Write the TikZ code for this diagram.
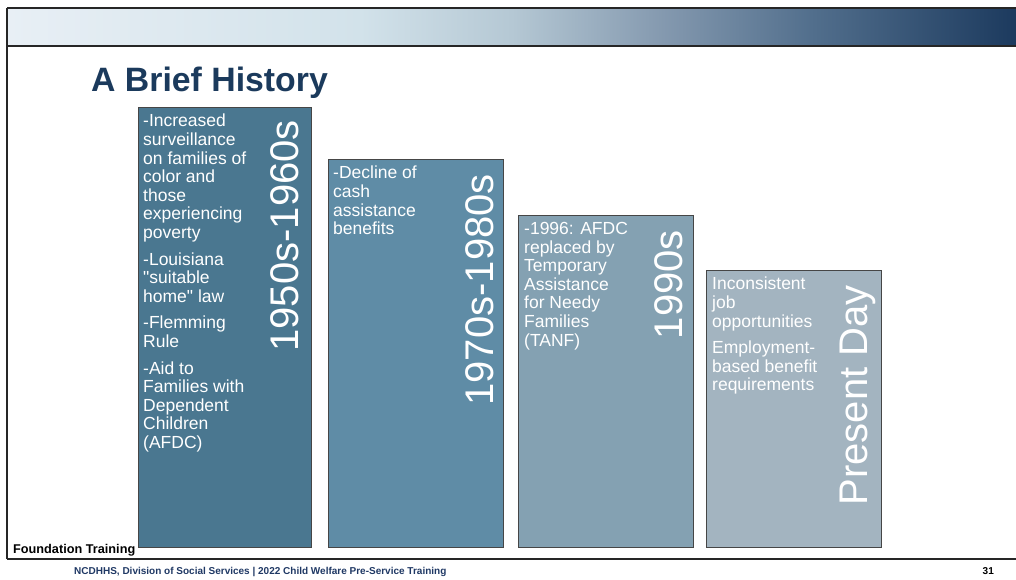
\documentclass[tikz,border=0pt]{standalone}
\usepackage{fontspec}
\setmainfont{Liberation Sans}
\usepackage{tikz}
\usetikzlibrary{positioning}
\usepackage{xcolor}
\definecolor{bhnavy}{RGB}{27,58,92}
\definecolor{bhfoot}{RGB}{31,56,100}
\definecolor{bhedge}{RGB}{70,70,70}
\definecolor{bhera1}{RGB}{74,119,144}
\definecolor{bhera2}{RGB}{95,140,166}
\definecolor{bhera3}{RGB}{132,161,178}
\definecolor{bhera4}{RGB}{163,180,192}
\definecolor{bhhdrA}{RGB}{232,239,245}
\definecolor{bhhdrB}{RGB}{210,226,234}
\definecolor{bhhdrC}{RGB}{181,200,212}
\definecolor{bhhdrD}{RGB}{132,153,175}
\definecolor{bhhdrE}{RGB}{81,110,140}
\definecolor{bhhdrF}{RGB}{28,58,94}
\pgfdeclarehorizontalshading{bhheader}{100bp}{color(0bp)=(bhhdrA); color(25bp)=(bhhdrA);
  color(42.5bp)=(bhhdrB); color(50bp)=(bhhdrC); color(57.5bp)=(bhhdrD);
  color(65bp)=(bhhdrE); color(75bp)=(bhhdrF); color(100bp)=(bhhdrF)}
\tikzset{
  bhrule/.style={draw=black!85,line width=1.2pt},
  erabox/.style={rectangle,draw=bhedge,line width=0.9pt,anchor=north west,inner sep=0pt},
  eratext/.style={anchor=north west,text=white,align=left,inner sep=0pt,
    font=\fontsize{17.5}{18.6}\selectfont},
  yearlabel/.style={rotate=90,anchor=base east,text=white,inner sep=0pt,
    font=\fontsize{40}{40}\selectfont},
  footnote/.style={inner sep=0pt,text=bhfoot,font=\bfseries\fontsize{10}{10}\selectfont}
}

\begin{document}
\begin{tikzpicture}[x=1pt,y=-1pt]
  \useasboundingbox (0,0) rectangle (1016,580);
  \shade[shading=bhheader] (7,8) rectangle (1016,46);
  \draw[bhrule] (7,8) -- (1016,8);
  \draw[bhrule,line width=1.8pt] (7,46) -- (1016,46);
  \draw[bhrule] (7,8) -- (7,559);
  \draw[bhrule,line width=2pt] (7,559) -- (1016,559);
  \node[anchor=base west,inner sep=0pt,text=bhnavy,font=\bfseries\fontsize{33.8}{34}\selectfont]
    (title) at (91,92) {A Brief History};
  \node[erabox,fill=bhera1,minimum width=173pt,minimum height=440pt] (era1) at (138,107) {};
  \node[erabox,fill=bhera2,minimum width=175pt,minimum height=388pt] (era2) at (328,159) {};
  \node[erabox,fill=bhera3,minimum width=175pt,minimum height=332pt] (era3) at (518,215) {};
  \node[erabox,fill=bhera4,minimum width=175pt,minimum height=277pt] (era4) at (706,270) {};
  \node[eratext] (txt1) at ([xshift=5pt,yshift=-7pt]era1.north west)
    {-Increased\\surveillance\\on families of\\color and\\those\\experiencing\\poverty\\[8pt]
     -Louisiana\\\textquotedbl suitable\\home\textquotedbl{} law\\[8pt]-Flemming\\Rule\\[8pt]
     -Aid to\\Families with\\Dependent\\Children\\(AFDC)};
  \node[eratext] (txt2) at ([xshift=5pt,yshift=-7pt]era2.north west)
    {-Decline of\\cash\\assistance\\benefits};
  \node[eratext] (txt3) at ([xshift=6pt,yshift=-7pt]era3.north west)
    {-1996: AFDC\\replaced by\\Temporary\\Assistance\\for Needy\\Families\\(TANF)};
  \node[eratext] (txt4) at ([xshift=6pt,yshift=-7pt]era4.north west)
    {Inconsistent\\job\\opportunities\\[8pt]Employment-\\based benefit\\requirements};
  \node[yearlabel] (yr1) at ([xshift=-13pt,yshift=-13pt]era1.north east) {1950s-1960s};
  \node[yearlabel] (yr2) at ([xshift=-10pt,yshift=-15pt]era2.north east) {1970s-1980s};
  \node[yearlabel] (yr3) at ([xshift=-11pt,yshift=-15pt]era3.north east) {1990s};
  \node[yearlabel] (yr4) at ([xshift=-14pt,yshift=-15pt]era4.north east) {Present Day};
  \node[anchor=base west,inner sep=0pt,font=\bfseries\fontsize{12.7}{13}\selectfont]
    (found) at (13,553) {Foundation Training};
  \node[footnote,anchor=base west] (credit) at (74,574)
    {NCDHHS, Division of Social Services | 2022 Child Welfare Pre-Service Training};
  \node[footnote,anchor=base east,text=black] (page) at (994,574) {31};
\end{tikzpicture}
\end{document}
